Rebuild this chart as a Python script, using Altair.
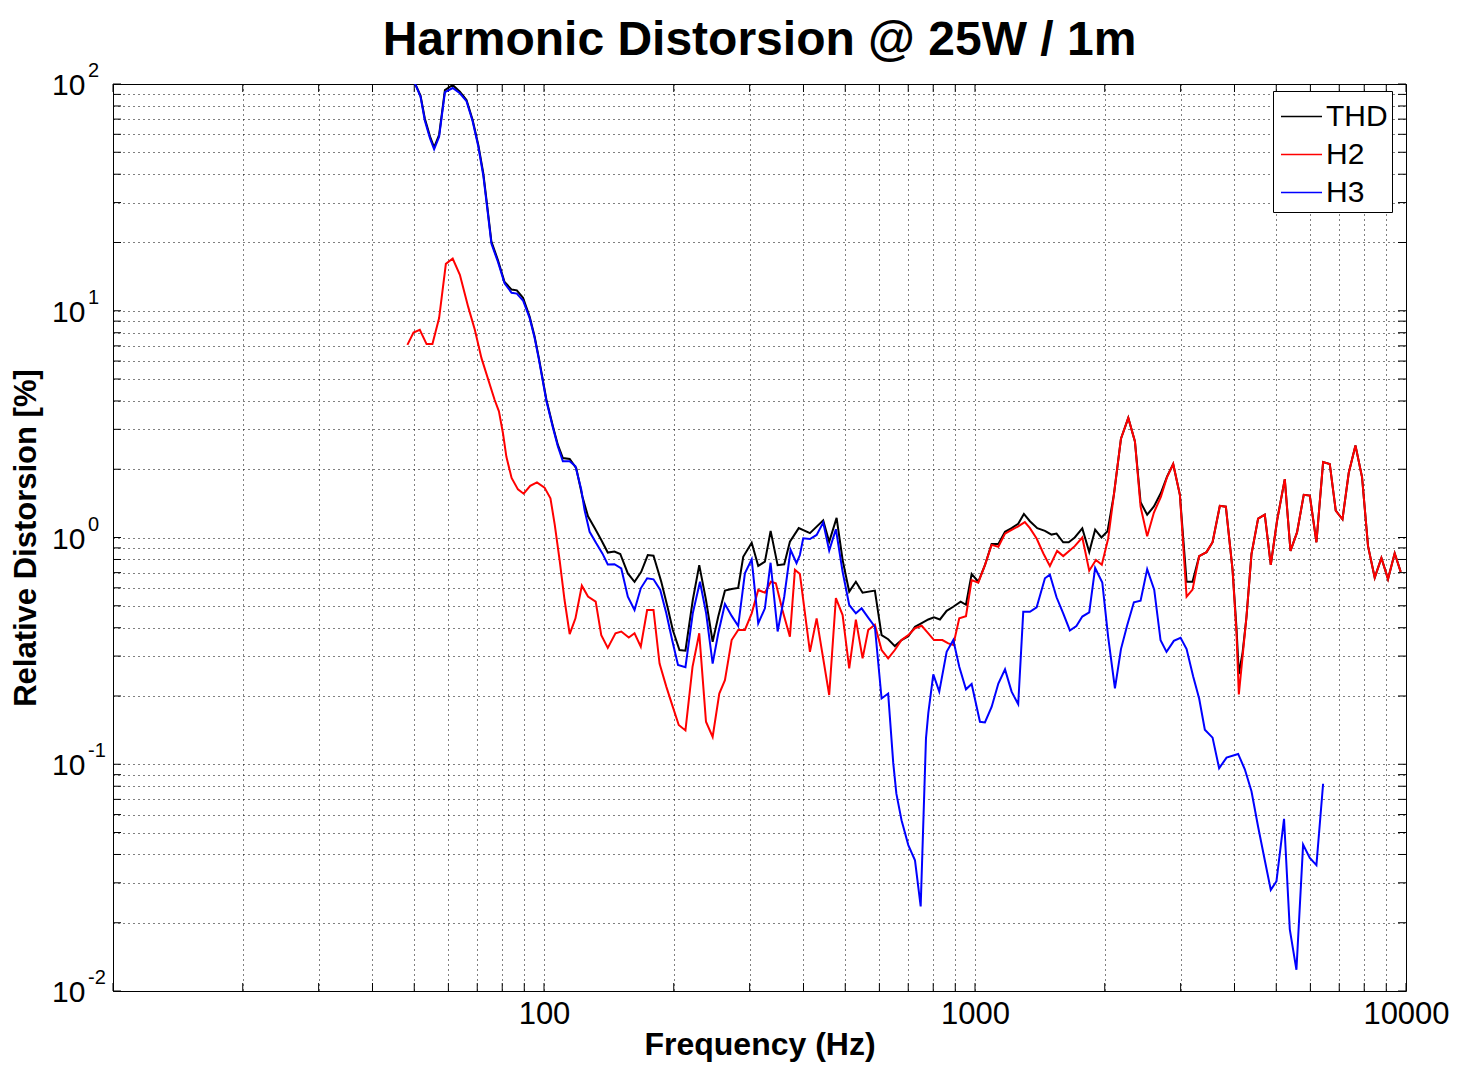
import altair as alt
import pandas as pd

TITLE = "Harmonic Distorsion @ 25W / 1m"
X_TITLE = "Frequency (Hz)"
Y_TITLE = "Relative Distorsion [%]"
FONT = "Liberation Sans"

series_names = ["THD", "H2", "H3"]
series_colors = ["#000000", "#ff0000", "#0000ff"]

thd_freq = [48.2, 49.8, 51.7, 52.9, 54.4, 55.6, 57.1, 58.9, 61.4, 63.8, 66.1, 68.3, 70.4, 72.3, 73.7,
            75.5, 78.2, 81.0, 84.1, 86.5, 89.4, 92.6, 95.1, 97.3, 101.3, 104.9, 107.7, 110.6, 114.7,
            118.8, 122.7, 126.5, 131.1, 135.8, 140.6, 145.7, 150.3, 156.5, 162.2, 168.1, 174.1, 179.5,
            187.1, 193.8, 199.0, 206.2, 212.9, 221.4, 229.2, 237.6, 246.2, 253.7, 262.9, 272.5, 282.2,
            289.9, 303.3, 314.1, 325.5, 335.6, 348.4, 360.9, 372.0, 390.0, 414.0, 444.4, 458.9, 477.4,
            493.0, 510.7, 529.2, 548.5, 585.7, 607.1, 628.8, 651.6, 675.4, 700.3, 725.7, 752.1, 779.2,
            803.2, 829.3, 859.4, 890.5, 926.2, 952.9, 982.2, 1017.6, 1054.5, 1092.8, 1132.8, 1173.9,
            1216, 1259.7, 1298.5, 1341, 1394.6, 1453, 1505, 1546, 1602, 1650, 1704, 1774, 1841, 1900,
            1965, 2030, 2100, 2181, 2268, 2350, 2422, 2509, 2601, 2699, 2791, 2883, 2988, 3097, 3197,
            3312, 3445, 3558, 3699, 3820, 3959, 4043, 4094, 4176, 4264, 4380, 4538, 4703, 4856, 5022,
            5233, 5395, 5587, 5791, 5981, 6197, 6422, 6654, 6871, 7122, 7364, 7633, 7907, 8164, 8461,
            8769, 9084, 9413, 9721]
thd_val = [125, 104, 89, 70.5, 58.6, 52.6, 59.6, 94, 99, 92.5, 85, 69.4, 53.9, 40.4, 29.8,
           20.2, 16.7, 13.4, 12.4, 12.3, 11.4, 9.44, 7.7, 6.18, 4.05, 3.09, 2.56, 2.24, 2.22,
           2.02, 1.52, 1.24, 1.10, 0.975, 0.858, 0.867, 0.846, 0.694, 0.638, 0.706, 0.837, 0.831,
           0.638, 0.487, 0.391, 0.319, 0.317, 0.530, 0.755, 0.530, 0.347, 0.448, 0.583, 0.593, 0.599,
           0.822, 0.949, 0.750, 0.782, 1.07, 0.755, 0.762, 0.958, 1.10, 1.045, 1.19, 0.958, 1.22,
           0.796, 0.577, 0.638, 0.571, 0.583, 0.371, 0.356, 0.332, 0.353, 0.367, 0.404, 0.419, 0.435,
           0.445, 0.435, 0.475, 0.495, 0.521, 0.505, 0.691, 0.638, 0.755, 0.937, 0.937, 1.06,
           1.10, 1.15, 1.27, 1.18, 1.10, 1.07, 1.03, 1.04, 0.953, 0.953, 1.0, 1.097, 0.862, 1.083,
           1.0, 1.066, 1.543, 2.727, 3.37, 2.65, 1.43, 1.26, 1.37, 1.57, 1.86, 2.11, 1.543, 0.638, 0.638,
           0.828, 0.862, 0.953, 1.379, 1.367, 0.72, 0.40, 0.25, 0.31, 0.445, 0.845, 1.212, 1.262, 0.758, 1.188,
           1.81, 0.873, 1.053, 1.543, 1.53, 0.953, 2.15, 2.11, 1.314, 1.203, 1.924, 2.548, 1.848, 0.916, 0.665,
           0.812, 0.656, 0.852, 0.705]

h2_freq = [48.2, 49.8, 51.5, 53.4, 55.1, 57.1, 59.2, 61.4, 63.8, 66.7, 69.1, 71.6, 76.8, 78.6, 80.3,
           81.8, 84.1, 87.0, 89.7, 92.9, 96.3, 100.3, 103.5, 105.9, 108.7, 111.6, 114.7, 118.3, 122.4,
           126.5, 131.8, 135.8, 140.6, 146.5, 151.1, 157.3, 162.2, 167.7, 173.5, 179.5, 185.4, 192.2,
           199.0, 205.4, 212.9, 221.1, 229.2, 237.6, 246.2, 255.1, 262.9, 272.5, 282.2, 292.5, 303.3,
           314.1, 325.5, 336.1, 345.1, 357.4, 372.0, 382.1, 392.4, 414.0, 429.1, 443.1, 458.9, 475.6,
           493.0, 510.7, 529.2, 548.5, 565.2, 585.7, 607.1, 628.8, 651.6, 675.4, 700.3, 725.7, 752.1,
           779.2, 803.2, 840, 867, 890.5, 919.4, 952.9, 982.2, 1017.6, 1054.5, 1092.8, 1132.8, 1173.9,
           1216, 1259.7, 1305, 1341, 1390, 1441, 1492, 1551, 1602, 1704, 1774, 1841, 1908, 1969, 2037,
           2100, 2181, 2268, 2350, 2422, 2509, 2601, 2699, 2791, 2883, 2988, 3097, 3197, 3312, 3445,
           3558, 3699, 3820, 3959, 4043, 4094, 4176, 4264, 4380, 4538, 4703, 4856, 5022, 5233, 5395,
           5587, 5791, 5981, 6197, 6422, 6654, 6871, 7122, 7364, 7633, 7907, 8164, 8461, 8769, 9084,
           9413, 9721]
h2_val = [7.07, 8.02, 8.24, 7.13, 7.13, 9.28, 16.1, 17.0, 14.4, 10.4, 8.24, 6.18, 4.05, 3.6, 2.89,
          2.27, 1.83, 1.63, 1.56, 1.69, 1.75, 1.66, 1.49, 1.14, 0.795, 0.530, 0.375, 0.440, 0.613,
          0.549, 0.521, 0.371, 0.326, 0.378, 0.385, 0.362, 0.378, 0.330, 0.479, 0.479, 0.278, 0.220,
          0.179, 0.149, 0.141, 0.269, 0.378, 0.154, 0.132, 0.205, 0.235, 0.353, 0.391, 0.391, 0.463,
          0.587, 0.571, 0.638, 0.628, 0.479, 0.365, 0.72, 0.69, 0.313, 0.440, 0.303, 0.202, 0.540,
          0.455, 0.265, 0.434, 0.293, 0.391, 0.412, 0.319, 0.293, 0.319, 0.353, 0.371, 0.398, 0.408,
          0.378, 0.353, 0.353, 0.341, 0.336, 0.440, 0.450, 0.649, 0.632, 0.755, 0.928, 0.91, 1.04,
          1.08, 1.12, 1.17, 1.10, 0.99, 0.85, 0.749, 0.873, 0.828, 0.916, 1.0, 0.714, 0.796, 0.758, 0.99,
          1.543, 2.727, 3.37, 2.65, 1.367, 1.012, 1.288, 1.512, 1.848, 2.11, 1.543, 0.548, 0.589, 0.828, 0.862,
          0.953, 1.379, 1.367, 0.72, 0.379, 0.203, 0.298, 0.445, 0.845, 1.212, 1.262, 0.758, 1.188, 1.81, 0.873,
          1.053, 1.543, 1.53, 0.953, 2.15, 2.11, 1.314, 1.203, 1.924, 2.548, 1.848, 0.916, 0.665, 0.812, 0.656,
          0.852, 0.705]

h3_freq = [48.2, 49.8, 51.7, 52.9, 54.4, 55.6, 57.1, 58.9, 61.4, 63.8, 66.1, 68.3, 70.4, 72.3, 73.7,
           75.5, 78.2, 81.0, 84.1, 86.5, 89.4, 92.6, 95.1, 97.3, 101.3, 104.9, 107.7, 110.6, 114.7,
           118.3, 122.0, 124.2, 127.6, 132.2, 136.6, 140.6, 145.7, 151.1, 156.5, 162.2, 167.7, 173.5,
           179.5, 186.1, 192.2, 198.3, 204.6, 212.9, 221.4, 230.1, 237.8, 246.2, 253.7, 262.9, 272.5,
           282.2, 292.5, 303.3, 314.1, 325.5, 335.5, 348.4, 360.9, 373.4, 385.4, 392.4, 399.4, 414.0,
           429.1, 444.4, 458.9, 475.6, 493.0, 510.7, 529.2, 545.6, 565.2, 585.7, 607.1, 628.8, 646,
           657, 675.4, 700.3, 725.7, 748.1, 769.6, 779.2, 800.3, 826.2, 859.4, 890.5, 919.4, 952.9,
           982.2, 1026.8, 1054.5, 1092.8, 1132.8, 1173.9, 1216, 1259.7, 1294, 1341, 1390, 1453, 1492,
           1546, 1602, 1660, 1719, 1774, 1841, 1900, 1974, 2037, 2112, 2181, 2255, 2337, 2422, 2509,
           2605, 2695, 2782, 2893, 2999, 3097, 3208, 3312, 3414, 3558, 3685, 3834, 4079, 4227, 4380,
           4538, 4703, 4856, 5006, 5212, 5375, 5569, 5771, 5981, 6197, 6422]
h3_val = [125, 104, 88, 69, 57.5, 51.5, 58.5, 92, 96, 91, 84, 68.5, 53, 39.5, 29.2,
          19.8, 16.4, 13.2, 12.0, 11.9, 11.1, 9.3, 7.6, 6.1, 4.0, 3.05, 2.52, 2.17, 2.17,
          2.06, 1.63, 1.32, 1.06, 0.943, 0.851, 0.761, 0.763, 0.730, 0.548, 0.479, 0.597, 0.661,
          0.654, 0.587, 0.463, 0.353, 0.274, 0.268, 0.463, 0.638, 0.463, 0.278, 0.378, 0.509, 0.451,
          0.407, 0.695, 0.801, 0.418, 0.487, 0.774, 0.385, 0.548, 0.881, 0.77, 0.837, 0.992, 0.985,
          1.026, 1.163, 0.875, 1.088, 0.706, 0.504, 0.463, 0.487, 0.443, 0.404, 0.195, 0.205, 0.1016,
          0.0742, 0.0566, 0.0440, 0.0377, 0.0236, 0.130, 0.168, 0.249, 0.209, 0.313, 0.353, 0.269, 0.214,
          0.226, 0.154, 0.153, 0.179, 0.227, 0.262, 0.209, 0.184, 0.470, 0.470, 0.492, 0.661, 0.686,
          0.545, 0.463, 0.389, 0.407, 0.448, 0.467, 0.734, 0.633, 0.364, 0.216, 0.322, 0.41, 0.518, 0.526, 0.725,
          0.589, 0.352, 0.313, 0.35, 0.361, 0.322, 0.244, 0.195, 0.142, 0.131, 0.096, 0.107, 0.111, 0.095, 0.076,
          0.053, 0.0377, 0.0279, 0.0305, 0.0575, 0.0187, 0.0124, 0.0442, 0.0386, 0.0359, 0.082]

x_grid = [10, 20, 30, 40, 50, 60, 70, 80, 90,
          100, 200, 300, 400, 500, 600, 700, 800, 900,
          1000, 2000, 3000, 4000, 5000, 6000, 7000, 8000, 9000, 10000]
y_grid = [0.01, 0.02, 0.03, 0.04, 0.05, 0.06, 0.07, 0.08, 0.09,
          0.1, 0.2, 0.3, 0.4, 0.5, 0.6, 0.7, 0.8, 0.9,
          1, 2, 3, 4, 5, 6, 7, 8, 9,
          10, 20, 30, 40, 50, 60, 70, 80, 90, 100]
y_label_vals = [0.01, 0.1, 1, 10, 100]
y_label_exps = ["-2", "-1", "0", "1", "2"]

W, H = 1293, 907

xscale = alt.Scale(type="log", domain=[10, 10000], nice=False)
yscale = alt.Scale(type="log", domain=[0.01, 100], nice=False)

xaxis = alt.Axis(
    values=x_grid, format="d",
    labelExpr="indexof([100, 1000, 10000], datum.value) >= 0 ? datum.label : ''",
    grid=True, gridDash=[1, 4], gridColor="#000000", gridWidth=1, gridOpacity=1,
    ticks=False, tickSize=0, domain=False,
    labelFont=FONT, labelFontSize=31, labelColor="black", labelPadding=8,
    labelOverlap=False, labelFlush=False,
    title=X_TITLE, titleFont=FONT, titleFontSize=32, titleFontWeight="bold",
    titleColor="black", titlePadding=0,
)
yaxis = alt.Axis(
    values=y_grid, labels=False,
    grid=True, gridDash=[1, 4], gridColor="#000000", gridWidth=1, gridOpacity=1,
    ticks=False, tickSize=0, domain=False,
    title=Y_TITLE, titleFont=FONT, titleFontSize=31, titleFontWeight="bold",
    titleColor="black", titlePadding=71,
)

X = alt.X("f:Q", scale=xscale, axis=xaxis)
Y = alt.Y("v:Q", scale=yscale, axis=yaxis)

legend = alt.Legend(
    title=None, orient="none", legendX=1160, legendY=7,
    symbolType="stroke", symbolSize=1681, symbolStrokeWidth=1.4, symbolOffset=3,
    labelFont=FONT, labelFontSize=30, labelColor="black",
    labelExpr="datum.label + '\u00a0\u00a0'",
    strokeColor="black", fillColor="white", padding=4, rowPadding=1,
    labelOffset=3, cornerRadius=0,
)
COL = alt.Color("s:N", scale=alt.Scale(domain=series_names, range=series_colors), legend=legend)


def series_df(name, fs, vs):
    return pd.DataFrame({"f": fs, "v": vs, "s": name})


def line(df):
    return alt.Chart(df).mark_line(strokeWidth=2, clip=True).encode(x=X, y=Y, color=COL)


xt = pd.DataFrame({"f": x_grid})
yt = pd.DataFrame({"v": y_grid})
tick_b = alt.Chart(xt).mark_rule(color="black", strokeWidth=1).encode(x=X, y=alt.value(H), y2=alt.value(H - 8))
tick_t = alt.Chart(xt).mark_rule(color="black", strokeWidth=1).encode(x=X, y=alt.value(0), y2=alt.value(8))
tick_l = alt.Chart(yt).mark_rule(color="black", strokeWidth=1).encode(y=Y, x=alt.value(0), x2=alt.value(8))
tick_r = alt.Chart(yt).mark_rule(color="black", strokeWidth=1).encode(y=Y, x=alt.value(W), x2=alt.value(W - 8))

yl = pd.DataFrame({"v": y_label_vals, "e": y_label_exps})

base_label = alt.Chart(yl).mark_text(
    align="left", baseline="middle", font=FONT, fontSize=30, color="black", dy=2
).encode(y=Y, x=alt.value(-61), text=alt.value("10"))

exp_label = alt.Chart(yl).mark_text(
    align="left", baseline="middle", font=FONT, fontSize=20, color="black", dy=-13
).encode(y=Y, x=alt.value(-25), text="e:N")

chart = alt.layer(
    tick_b, tick_t, tick_l, tick_r,
    line(series_df("THD", thd_freq, thd_val)),
    line(series_df("H2", h2_freq, h2_val)),
    line(series_df("H3", h3_freq, h3_val)),
    base_label, exp_label,
).properties(
    width=W, height=H,
    title=alt.TitleParams(TITLE, font=FONT, fontSize=48, fontWeight="bold", color="black",
                          anchor="middle", offset=-4),
    autosize=alt.AutoSizeParams(type="none"),
    padding={"left": 105, "top": 76, "right": 45, "bottom": 75},
    background="white",
).configure_view(stroke="black", strokeWidth=1)

chart.save("out.html", embed_options={"renderer": "svg", "actions": False})
